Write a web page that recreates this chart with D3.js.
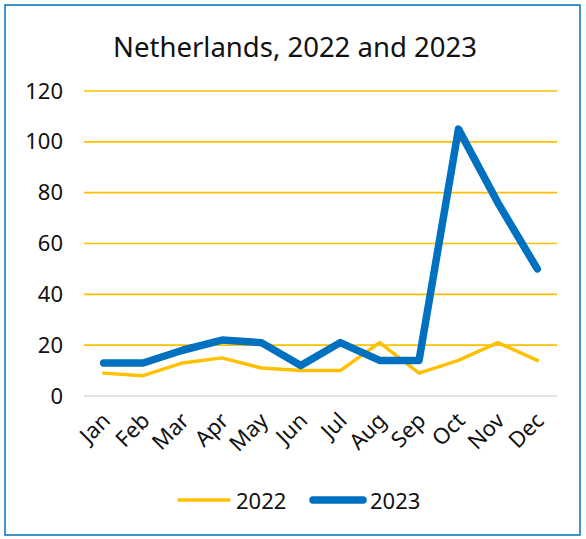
<!DOCTYPE html>
<html><head><meta charset="utf-8">
<script src="https://cdn.jsdelivr.net/npm/d3@7"></script>
<style>body{margin:0;background:#fff}svg{display:block}</style>
</head><body><svg id="c" width="586" height="539"></svg>
<script>
const months = ["Jan","Feb","Mar","Apr","May","Jun","Jul","Aug","Sep","Oct","Nov","Dec"];
const values2022 = [9,8,13,15,11,10,10,21,9,14,21,14];
const values2023 = [13,13,18,22,21,12,21,14,14,105,76,50];
const yTicks = [0,20,40,60,80,100,120];
const title = "Netherlands, 2022 and 2023";
const seriesNames = ["2022","2023"];

const font = "'Noto Sans', 'Open Sans', sans-serif";
const svg = d3.select("#c");
svg.append("rect").attr("x",5).attr("y",5).attr("width",575).attr("height",530)
  .attr("fill","#fff").attr("stroke","#0070C0").attr("stroke-width",1.5);

const x = d3.scaleBand().domain(months).range([84,557]);
const y = d3.scaleLinear().domain([0,120]).range([396,91]);

svg.append("text").attr("x",295).attr("y",57).attr("text-anchor","middle")
  .attr("font-family",font).attr("font-size",27.5).attr("fill","#111").text(title);

// gridlines
svg.append("g").selectAll("line").data(yTicks).join("line")
  .attr("x1",84).attr("x2",557).attr("y1",d=>y(d)).attr("y2",d=>y(d))
  .attr("stroke",d=>d===0?"#d9d9d9":"#FFC000").attr("stroke-width",1.6);

const yAxis = svg.append("g").attr("transform","translate(63,0)")
  .call(d3.axisLeft(y).tickValues(yTicks).tickSize(0).tickPadding(0));
yAxis.select(".domain").remove();
yAxis.selectAll("text").attr("font-family",font).attr("font-size",22).attr("fill","#111");

const xAxis = svg.append("g").attr("transform","translate(0,396)")
  .call(d3.axisBottom(x).tickSize(0).tickPadding(0));
xAxis.select(".domain").remove();
xAxis.selectAll("text").attr("font-family",font).attr("font-size",22).attr("fill","#111")
  .attr("text-anchor","end").attr("dy",0)
  .attr("transform","translate(8,26) rotate(-45)");

const line = d3.line().x((d,i)=>x(months[i])+x.bandwidth()/2).y(d=>y(d));
svg.append("path").datum(values2022).attr("d",line).attr("fill","none")
  .attr("stroke","#FFC000").attr("stroke-width",3.5).attr("stroke-linejoin","round").attr("stroke-linecap","round");
svg.append("path").datum(values2023).attr("d",line).attr("fill","none")
  .attr("stroke","#0070C0").attr("stroke-width",7.5).attr("stroke-linejoin","round").attr("stroke-linecap","round");

// legend
const leg = [
  {name:seriesNames[0], x1:179, x2:229, tx:236, color:"#FFC000", w:3.5},
  {name:seriesNames[1], x1:313, x2:363, tx:370, color:"#0070C0", w:7.5}
];
const lg = svg.append("g");
leg.forEach(l=>{
  lg.append("line").attr("x1",l.x1).attr("x2",l.x2).attr("y1",500).attr("y2",500)
    .attr("stroke",l.color).attr("stroke-width",l.w).attr("stroke-linecap","round");
  lg.append("text").attr("x",l.tx).attr("y",509).attr("font-family",font)
    .attr("font-size",22).attr("fill","#111").text(l.name);
});
</script></body></html>
